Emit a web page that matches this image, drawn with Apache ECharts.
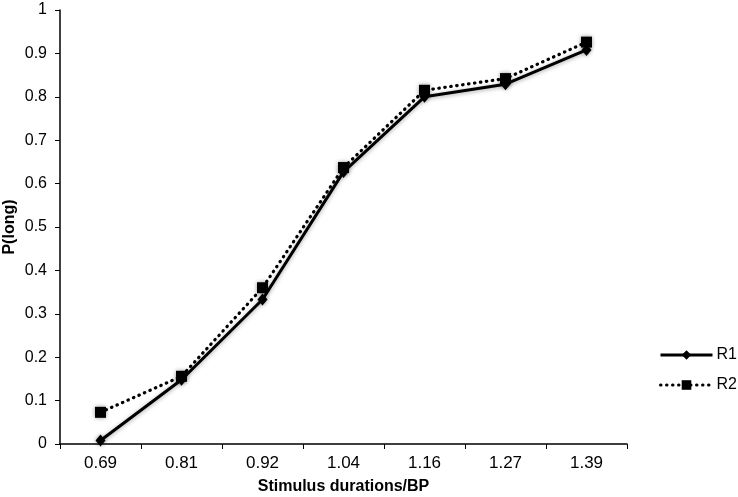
<!DOCTYPE html>
<html>
<head>
<meta charset="utf-8">
<script src="https://cdn.jsdelivr.net/npm/echarts@6/dist/echarts.min.js"></script>
<style>html,body{margin:0;padding:0;background:#fff}#c{width:738px;height:497px}</style>
</head>
<body>
<div id="c"></div>
<script>
const categories = ['0.69','0.81','0.92','1.04','1.16','1.27','1.39'];
const r1 = [0.008, 0.148, 0.333, 0.627, 0.800, 0.829, 0.908];
const r2 = [0.073, 0.156, 0.360, 0.637, 0.815, 0.842, 0.926];
const seriesNames = ['R1','R2'];

const chart = echarts.init(document.getElementById('c'));
const font = 'Liberation Sans, Arial, sans-serif';
chart.setOption({
  animation: false,
  backgroundColor: '#fff',
  grid: {left: 60, right: 111, top: 10, bottom: 53, containLabel: false, outerBoundsMode: 'none'},
  legend: {
    orient: 'vertical', left: 654, top: 342, itemGap: 14,
    itemWidth: 52, itemHeight: 12,
    lineStyle: {width: 3},
    textStyle: {fontFamily: font, fontSize: 16, color: '#000', padding: [0,0,0,-1]},
    data: seriesNames
  },
  xAxis: {
    type: 'category', data: categories, boundaryGap: true,
    name: 'Stimulus durations/BP', nameLocation: 'middle', nameGap: 35, nameMoveOverlap: false,
    nameTextStyle: {fontFamily: font, fontSize: 16, fontWeight: 'bold', color: '#000'},
    axisLine: {lineStyle: {color: '#000', width: 1.5}},
    axisTick: {show: true, length: 5, lineStyle: {color: '#000'}},
    axisLabel: {fontFamily: font, fontSize: 17, color: '#000', margin: 11}
  },
  yAxis: {
    type: 'value', min: 0, max: 1, interval: 0.1,
    name: 'P(long)', nameLocation: 'middle', nameGap: 42, nameRotate: 90, nameMoveOverlap: false,
    nameTextStyle: {fontFamily: font, fontSize: 16, fontWeight: 'bold', color: '#000'},
    axisLine: {show: true, lineStyle: {color: '#000', width: 1.5}},
    axisTick: {show: true, length: 5, lineStyle: {color: '#000'}},
    splitLine: {show: false},
    axisLabel: {fontFamily: font, fontSize: 16, color: '#000', margin: 13,
      formatter: v => String(Math.round(v*10)/10)}
  },
  series: [
    {name: 'R1', type: 'line', data: r1, symbol: 'diamond', symbolSize: [10, 12],
     lineStyle: {color: '#000', width: 3, shadowColor: 'rgba(0,0,0,0.35)', shadowBlur: 4, shadowOffsetY: 1},
     itemStyle: {color: '#000', shadowColor: 'rgba(0,0,0,0.4)', shadowBlur: 4}, z: 3},
    {name: 'R2', type: 'line', data: r2, symbol: 'rect', symbolSize: 11,
     lineStyle: {color: '#000', width: 3.2, type: [0.5, 5.5], cap: 'round'},
     itemStyle: {color: '#000', shadowColor: 'rgba(0,0,0,0.4)', shadowBlur: 4}, z: 2}
  ]
});
</script>
</body>
</html>
